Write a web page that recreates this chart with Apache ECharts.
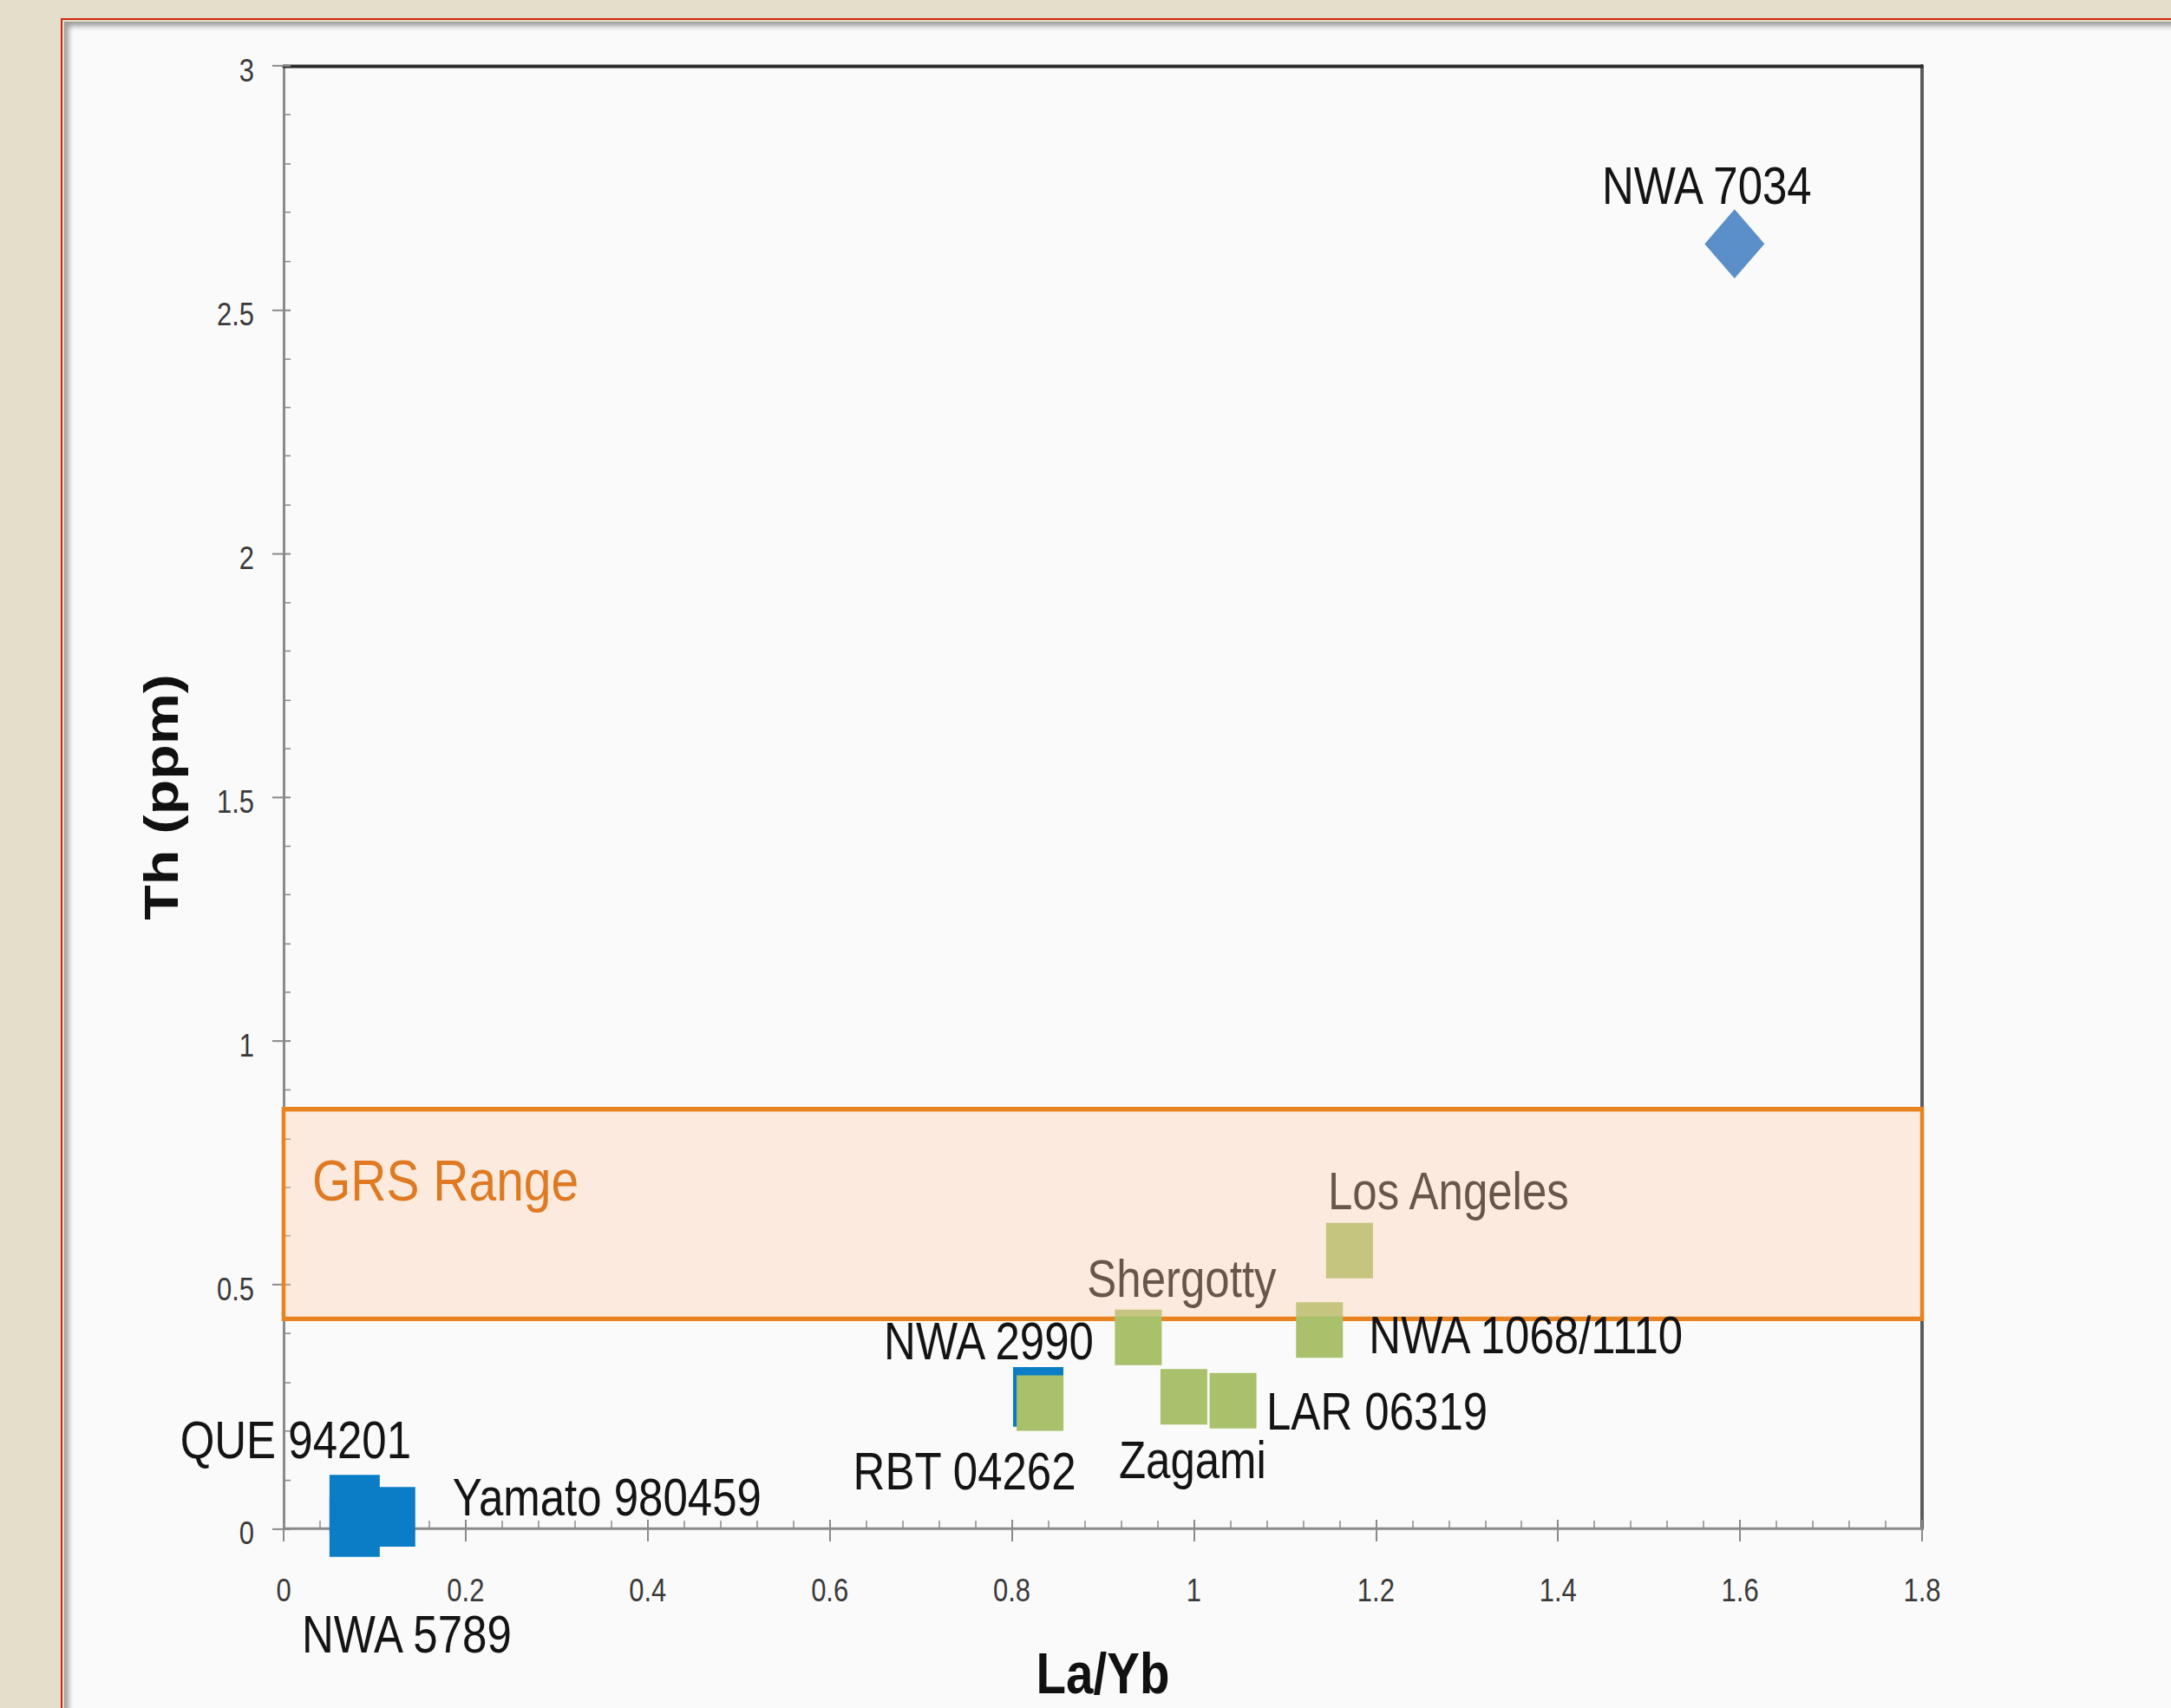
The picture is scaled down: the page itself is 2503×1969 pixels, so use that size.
<!DOCTYPE html>
<html>
<head>
<meta charset="utf-8">
<title>Th vs La/Yb</title>
<script src="https://cdn.jsdelivr.net/npm/echarts@6/dist/echarts.min.js"></script>
<style>
  html, body { margin: 0; padding: 0; width: 2503px; height: 1969px; overflow: hidden; background: #E3DFCB; }
  #frame { position: absolute; left: 70px; top: 21px; width: 2500px; height: 2000px;
           border-left: 2px solid #D2260C; border-top: 2px solid #D2260C; }
  #panel { position: absolute; left: 74px; top: 25px; width: 2500px; height: 2000px;
           background: #FAFAFA; box-shadow: inset 6px 6px 6px -1px rgba(0,0,0,0.38); }
  /* the slide stretches the chart vertically */
  #chart { position: absolute; left: 0; top: 0; width: 2503px; height: 1662px;
           transform-origin: 0 0; transform: scaleY(1.18472); }
</style>
</head>
<body>
<div id="frame"></div>
<div id="panel"></div>
<div id="chart"></div>
<script>
// Axis ticks
const xTicks = [0, 0.2, 0.4, 0.6, 0.8, 1, 1.2, 1.4, 1.6, 1.8];
const yTicks = [0, 0.5, 1, 1.5, 2, 2.5, 3];

// Blue squares
const blueNames = ['QUE 94201', 'NWA 5789', 'Yamato 980459', 'NWA 2990'];
const blueLaYb  = [0.078, 0.078, 0.117, 0.829];
const blueTh    = [0.049, 0.003, 0.024, 0.270];

// Green squares
const greenNames = ['RBT 04262', 'Zagami', 'LAR 06319', 'Shergotty', 'NWA 1068/1110', 'Los Angeles'];
const greenLaYb  = [0.831, 0.989, 1.043, 0.939, 1.138, 1.171];
const greenTh    = [0.257, 0.270, 0.262, 0.392, 0.407, 0.570];

// Diamond
const diamondNames = ['NWA 7034'];
const diamondLaYb  = [1.594];
const diamondTh    = [2.635];

// Gamma Ray Spectrometer Th range (ppm)
const grsRange = [0.43, 0.86];
const grsText = 'GRS Range';

// Where each sample name sits relative to its marker
const labelOffset = {
  'QUE 94201': [-68, -63],
  'NWA 5789': [60, 104],
  'Yamato 980459': [250, -19],
  'NWA 2990': [-57, -54],
  'RBT 04262': [-87, 66],
  'Zagami': [10, 61],
  'LAR 06319': [166, 10],
  'Shergotty': [50, -57],
  'NWA 1068/1110': [238, 5],
  'Los Angeles': [114, -58],
  'NWA 7034': [-32, -57]
};

const SANS = "'Liberation Sans', Arial, sans-serif";
const AXIS_GREY = '#8a8a8a';

function points(names, xs, ys) {
  return names.map((n, i) => ({
    name: n,
    value: [xs[i], ys[i]],
    label: { offset: labelOffset[n] }
  }));
}

const sampleLabel = {
  show: true,
  position: 'inside',
  formatter: p => p.name,
  fontFamily: SANS,
  fontSize: 51,
  color: '#141414',
  align: 'center',
  verticalAlign: 'middle'
};

const xMin = xTicks[0], xMax = xTicks[xTicks.length - 1], xStep = xTicks[1] - xTicks[0];
const yMin = yTicks[0], yMax = yTicks[yTicks.length - 1], yStep = yTicks[1] - yTicks[0];

const chart = echarts.init(document.getElementById('chart'), null, { renderer: 'svg' });

const hidden = { show: false };

const option = {
  animation: false,
  backgroundColor: 'transparent',
  grid: { left: 327, top: 64.15, right: 287, bottom: 174.7, containLabel: false, outerBoundsMode: 'none' },
  xAxis: [
    {
      type: 'value', min: xMin, max: xMax, interval: xStep, position: 'bottom',
      axisLine: { show: true, onZero: false, lineStyle: { color: AXIS_GREY, width: 2.6 } },
      axisTick: { show: true, length: 12.7, lineStyle: { color: AXIS_GREY, width: 2 } },
      axisLabel: { show: true, fontFamily: SANS, fontSize: 31, color: '#3a3a3a', margin: 44.5 },
      splitLine: hidden,
      name: 'La/Yb', nameLocation: 'middle', nameGap: 118.5, nameMoveOverlap: false,
      nameTextStyle: { fontFamily: SANS, fontWeight: 'bold', fontSize: 56.5, lineHeight: 44, color: '#111' }
    },
    {
      type: 'value', min: xMin, max: xMax, interval: xStep, position: 'bottom',
      axisLine: { show: false, onZero: false },
      axisTick: { show: true, inside: true, length: 8.4, lineStyle: { color: AXIS_GREY, width: 2 } },
      minorTick: { show: true, splitNumber: 5, length: 7.6, lineStyle: { color: AXIS_GREY, width: 1.5 } },
      axisLabel: hidden, splitLine: hidden
    },
    {
      type: 'value', min: xMin, max: xMax, interval: xStep, position: 'top',
      axisLine: { show: true, onZero: false, lineStyle: { color: '#2a2a2a', width: 3.4 } },
      axisTick: hidden, axisLabel: hidden, splitLine: hidden
    }
  ],
  yAxis: [
    {
      type: 'value', min: yMin, max: yMax, interval: yStep, position: 'left',
      axisLine: { show: true, onZero: false, lineStyle: { color: AXIS_GREY, width: 3 } },
      axisTick: { show: true, length: 13, lineStyle: { color: AXIS_GREY, width: 1.7 } },
      axisLabel: { show: true, fontFamily: SANS, fontSize: 31, color: '#3a3a3a', margin: 34,
                   verticalAlign: 'top', lineHeight: 9 },
      splitLine: hidden,
      name: 'Th (ppm)', nameLocation: 'middle', nameRotate: 90, nameGap: 114, nameMoveOverlap: false,
      nameTextStyle: { fontFamily: SANS, fontWeight: 'bold', fontSize: 56, color: '#111' }
    },
    {
      type: 'value', min: yMin, max: yMax, interval: yStep, position: 'left',
      axisLine: { show: false, onZero: false },
      axisTick: { show: true, inside: true, length: 8, lineStyle: { color: AXIS_GREY, width: 1.7 } },
      minorTick: { show: true, splitNumber: 5, length: 8, lineStyle: { color: AXIS_GREY, width: 1.3 } },
      axisLabel: hidden, splitLine: hidden
    },
    {
      type: 'value', min: yMin, max: yMax, interval: yStep, position: 'right',
      axisLine: { show: true, onZero: false, lineStyle: { color: '#5c5c5c', width: 4 } },
      axisTick: hidden, axisLabel: hidden, splitLine: hidden
    }
  ],
  series: [
    {
      // outline of the GRS band, beneath the markers
      type: 'custom', name: 'GRS outline', z: 1, silent: true,
      xAxisIndex: 0, yAxisIndex: 0,
      data: [[xMin, grsRange[0], xMax, grsRange[1]]],
      renderItem: (params, api) => {
        const p0 = api.coord([api.value(0), api.value(3)]);
        const p1 = api.coord([api.value(2), api.value(1)]);
        return {
          type: 'rect',
          shape: { x: p0[0], y: p0[1], width: p1[0] - p0[0], height: p1[1] - p0[1] },
          style: { fill: 'none', stroke: '#E8831F', lineWidth: 4.6 }
        };
      }
    },
    {
      type: 'scatter', name: 'blue', xAxisIndex: 0, yAxisIndex: 0, z: 2,
      symbol: 'rect', symbolSize: [58, 58],
      itemStyle: { color: '#0B7CC6', opacity: 1 },
      label: sampleLabel,
      data: points(blueNames, blueLaYb, blueTh)
    },
    {
      type: 'scatter', name: 'green', xAxisIndex: 0, yAxisIndex: 0, z: 3,
      symbol: 'rect', symbolSize: [54, 54],
      itemStyle: { color: '#A8C16A', opacity: 1 },
      label: sampleLabel,
      data: points(greenNames, greenLaYb, greenTh)
    },
    {
      type: 'scatter', name: 'diamond', xAxisIndex: 0, yAxisIndex: 0, z: 3,
      symbol: 'diamond', symbolSize: [69, 67.5],
      itemStyle: { color: '#5B8FC9', opacity: 1 },
      label: sampleLabel,
      data: points(diamondNames, diamondLaYb, diamondTh)
    },
    {
      // translucent GRS band laid over everything inside it
      type: 'custom', name: 'GRS band', z: 6, silent: true,
      xAxisIndex: 0, yAxisIndex: 0,
      data: [[xMin, grsRange[0], xMax, grsRange[1]]],
      renderItem: (params, api) => {
        const p0 = api.coord([api.value(0), api.value(3)]);
        const p1 = api.coord([api.value(2), api.value(1)]);
        const inset = 2.3;
        return {
          type: 'group',
          children: [
            {
              type: 'rect',
              shape: { x: p0[0] + inset, y: p0[1] + inset,
                       width: p1[0] - p0[0] - 2 * inset, height: p1[1] - p0[1] - 2 * inset },
              style: { fill: 'rgba(253,205,170,0.36)' }
            },
            {
              type: 'text',
              x: p0[0] + 33, y: p0[1] + 69,
              style: { text: grsText, fontFamily: SANS, fontSize: 57, fill: '#E07A22',
                       align: 'left', verticalAlign: 'middle' }
            }
          ]
        };
      }
    }
  ]
};

chart.setOption(option);
</script>
</body>
</html>
